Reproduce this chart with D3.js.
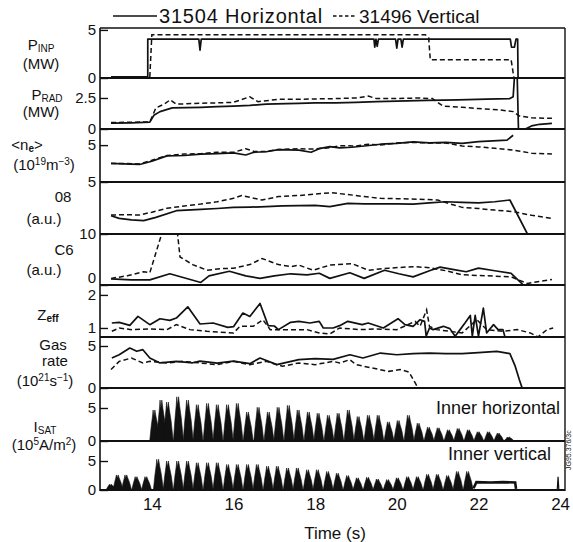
<!DOCTYPE html>
<html>
<head>
<meta charset="utf-8">
<script src="https://cdn.jsdelivr.net/npm/d3@7"></script>
<style>
  body { margin: 0; background: #fff; }
  text { font-family: "Liberation Sans", Arial, sans-serif; fill: #111; }
</style>
</head>
<body>
<svg id="chart" width="573" height="542"></svg>
<script>
// series names
var shotNames = ['31504 Horizontal', '31496 Vertical'];

// x axis
var timeTicks = [14, 16, 18, 20, 22, 24];

// y tick labels per panel
var pinpTicks = [0, 5];
var pradTicks = [0, 2.5];
var neTicks = [5];
var o8Ticks = [5];
var c6Ticks = [0, 10];
var zeffTicks = [1, 2];
var gasTicks = [0, 5];
var isatTicks = [0, 5];

// [time (s), value]
var pinpSolid = [[13.0,0.12],[13.9,0.12],[13.9,4.05],[15.15,4.05],[15.18,2.9],[15.21,4.05],[19.44,4.05],[19.46,3.2],[19.49,4.05],[19.52,3.3],[19.55,4.05],[19.97,4.05],[20.0,3.1],[20.03,4.05],[20.1,4.05],[20.13,3.2],[20.16,4.05],[22.78,4.05],[22.81,3.2],[22.88,3.2],[22.92,4.05],[22.96,4.05],[22.97,0],[23.8,0]];
var pinpDashed = [[13.95,0.1],[14.0,4.5],[20.7,4.5],[20.78,4.2],[20.82,1.9],[22.8,1.9],[22.87,0],[23.8,0]];

var pradSolid = [[13.0,0.48],[13.5,0.5],[13.95,0.55],[14.05,1.1],[14.2,1.4],[14.5,1.7],[15.2,1.75],[15.6,1.8],[16.0,1.85],[16.4,1.9],[16.8,2.0],[17.3,2.05],[17.6,2.07],[18.0,2.1],[18.5,2.1],[19.0,2.15],[19.5,2.2],[20.0,2.25],[20.75,2.3],[21.5,2.35],[22.2,2.4],[22.77,2.45],[22.85,2.6],[22.88,4.1],[22.95,4.1],[22.98,0],[23.15,0],[23.3,0.25],[23.5,0.38],[23.8,0.45]];
var pradDashed = [[13.0,0.52],[13.95,0.57],[14.1,1.7],[14.3,2.0],[14.45,2.35],[14.6,2.0],[15.0,2.05],[15.5,2.1],[16.0,2.15],[16.4,2.6],[16.6,2.2],[17.1,2.4],[17.6,2.4],[18.5,2.45],[19.0,2.5],[19.3,2.65],[19.5,2.45],[20.0,2.45],[20.5,2.5],[20.87,2.45],[21.13,1.85],[21.6,1.75],[22.0,1.65],[22.5,1.55],[22.85,1.4],[23.0,1.05],[23.3,0.9],[23.8,0.86]];

var neSolid = [[13.0,3.98],[13.3,3.95],[13.7,3.92],[14.0,4.1],[14.37,4.4],[14.8,4.42],[15.2,4.5],[15.6,4.52],[16.0,4.57],[16.3,4.45],[16.5,4.6],[16.8,4.63],[17.1,4.75],[17.6,4.72],[17.9,4.6],[18.1,4.8],[18.36,4.92],[18.6,4.85],[18.9,4.88],[19.2,4.95],[19.6,5.05],[20.0,5.1],[20.4,5.18],[20.8,5.12],[21.2,5.15],[21.6,5.1],[22.0,5.2],[22.7,5.28],[22.85,5.55]];
var neDashed = [[13.0,3.98],[13.3,3.98],[13.7,3.95],[14.0,4.15],[14.37,4.42],[14.8,4.5],[15.2,4.52],[15.6,4.6],[16.0,4.6],[16.3,4.8],[16.5,4.65],[16.8,4.65],[17.1,4.75],[17.6,4.8],[17.9,4.78],[18.36,4.85],[18.6,4.97],[19.0,4.95],[19.3,5.05],[19.6,5.0],[20.0,5.12],[20.4,5.15],[20.8,5.12],[21.2,5.12],[21.6,4.95],[22.0,4.9],[22.4,4.82],[22.85,4.72],[23.3,4.55],[23.8,4.5]];

var o8Solid = [[13.0,1.76],[13.2,1.5],[13.5,1.35],[13.8,1.28],[14.1,1.6],[14.6,2.24],[15.2,2.37],[15.6,2.45],[16.0,2.56],[16.4,2.58],[16.8,2.63],[17.2,2.7],[17.6,2.72],[18.0,2.75],[18.36,2.63],[18.8,2.95],[19.2,2.9],[19.6,2.9],[20.0,2.9],[20.4,2.88],[20.8,3.0],[21.2,3.1],[21.6,3.05],[22.0,3.0],[22.4,3.1],[22.77,3.27],[23.2,0],[23.8,0]];
var o8Dashed = [[13.0,1.83],[13.4,1.85],[13.7,1.83],[14.0,2.1],[14.37,2.47],[14.8,2.7],[15.2,2.88],[15.6,3.1],[16.0,3.43],[16.2,3.7],[16.7,3.27],[17.1,3.6],[17.6,3.7],[18.0,3.85],[18.4,3.97],[18.8,3.8],[19.2,3.6],[19.6,3.43],[20.0,3.4],[20.5,3.35],[21.0,3.27],[21.3,2.9],[21.6,2.56],[22.0,2.45],[22.4,2.3],[22.85,2.15],[23.3,1.8],[23.8,1.5]];

var c6Solid = [[13.0,1.2],[13.5,1.0],[13.95,1.0],[14.44,2.2],[15.2,0.5],[15.4,1.8],[15.9,2.7],[16.3,1.8],[16.65,1.3],[17.0,1.8],[17.4,2.2],[17.8,2.0],[18.1,2.3],[18.36,1.3],[18.85,2.4],[19.2,1.3],[19.7,2.9],[20.05,2.2],[20.4,1.6],[20.8,2.8],[21.06,3.5],[21.4,3.0],[21.7,2.6],[22.0,3.3],[22.4,2.8],[22.8,2.3],[23.1,0],[23.8,0]];
var c6Dashed = [[13.0,1.3],[13.4,1.8],[13.8,2.6],[13.95,2.4],[14.24,10],[14.4,13],[14.63,10],[14.69,5.5],[15.0,4.0],[15.35,2.9],[15.7,3.2],[16.0,3.3],[16.4,4.0],[16.7,5.2],[17.1,4.0],[17.4,3.6],[17.6,3.9],[17.95,2.9],[18.36,3.9],[18.9,4.2],[19.3,2.9],[19.8,3.3],[20.4,3.6],[20.8,3.4],[21.2,2.8],[21.6,2.0],[22.2,1.8],[22.8,1.6],[23.2,0.3],[23.5,0.7],[23.8,1.1]];

var zeffSolid = [[13.02,1.15],[13.2,1.17],[13.46,1.08],[13.66,1.35],[13.95,1.1],[14.2,1.28],[14.44,1.23],[14.6,1.3],[14.88,1.64],[15.18,1.12],[15.5,1.15],[15.86,1.02],[16.0,1.04],[16.23,1.45],[16.4,1.35],[16.65,1.74],[16.85,1.07],[17.0,1.06],[17.1,0.95],[17.4,1.17],[17.6,1.2],[17.87,1.15],[18.1,1.2],[18.2,1.0],[18.44,1.0],[18.6,1.07],[18.8,1.2],[19.15,1.1],[19.3,1.15],[19.67,1.0],[20.03,1.28],[20.2,1.1],[20.4,1.05],[20.57,1.25],[20.68,1.2],[20.72,0.75],[20.8,1.0],[20.89,0.95],[21.14,1.05],[21.3,0.98],[21.43,0.75],[21.55,0.95],[21.67,1.15],[21.8,1.38],[21.85,0.75],[21.92,1.38],[22.0,0.75],[22.12,1.6],[22.2,0.85],[22.37,1.1],[22.48,0.95],[22.6,0.95],[22.65,0.73]];
var zeffDashed = [[13.02,0.9],[13.2,1.0],[13.5,0.95],[13.95,0.97],[14.37,0.95],[14.6,1.1],[14.93,0.95],[15.35,0.9],[16.0,0.85],[16.16,1.05],[16.48,1.05],[16.72,1.25],[16.9,0.95],[17.3,0.95],[17.8,0.95],[18.1,0.85],[18.36,0.82],[18.6,1.0],[19.1,0.95],[19.5,0.97],[20.0,0.95],[20.45,1.2],[20.57,1.05],[20.73,1.55],[20.8,1.05],[20.97,0.95],[21.6,0.85],[21.96,1.25],[22.2,0.95],[22.6,0.9],[22.95,0.95],[23.27,0.85],[23.46,0.73],[23.68,0.95],[23.83,1.0]];

var gasSolid = [[13.02,3.57],[13.2,3.96],[13.46,4.76],[13.63,4.37],[13.78,4.56],[13.95,3.57],[14.2,2.98],[14.6,3.17],[15.0,3.0],[15.18,3.2],[15.6,2.95],[16.0,3.2],[16.4,2.9],[16.65,3.57],[17.06,2.78],[17.6,3.37],[18.0,3.5],[18.44,3.4],[18.85,3.96],[19.17,3.57],[19.6,4.16],[20.0,3.96],[20.4,4.1],[20.8,4.16],[21.2,4.1],[21.6,4.1],[22.0,4.2],[22.45,4.36],[22.77,4.1],[22.9,2.6],[23.0,1.0],[23.07,0],[23.8,0]];
var gasDashed = [[13.0,2.2],[13.2,3.17],[13.5,3.57],[13.78,2.98],[13.95,3.17],[14.37,2.98],[14.76,3.17],[15.18,2.98],[15.6,2.78],[16.0,3.17],[16.4,2.78],[16.8,3.17],[17.2,2.58],[17.6,2.98],[18.0,2.78],[18.44,3.17],[18.6,2.98],[18.85,3.37],[19.0,2.78],[19.4,2.38],[19.8,1.98],[20.08,2.2],[20.3,1.9],[20.52,0],[23.8,0]];

// Isat bursts: peak times and peak heights
var isatHTimes = [14.07,14.24,14.40,14.65,14.89,15.13,15.38,15.62,15.87,16.11,16.36,16.62,16.87,17.11,17.36,17.60,17.85,18.09,18.34,18.58,18.83,19.07,19.32,19.56,19.81,20.05,20.30,20.54,20.79,21.03,21.28,21.52,21.77,22.01,22.26,22.50,22.75];
var isatHPeaks = [4.7,6.2,5.9,6.7,6.2,5.5,5.7,5.5,5.5,5.7,4.4,5.1,4.4,5.1,5.4,4.7,4.4,4.2,3.9,4.2,4.7,3.7,3.9,3.9,2.9,3.1,3.9,2.7,2.1,2.0,1.7,1.9,1.7,1.4,1.4,1.2,0.6];
var isatVTimes = [13.0,13.17,13.38,13.63,13.87,14.16,14.40,14.65,14.89,15.13,15.38,15.62,15.87,16.11,16.36,16.60,16.85,17.09,17.34,17.58,17.83,18.07,18.32,18.56,18.81,19.05,19.30,19.54,19.79,20.03,20.28,20.52,20.77,21.01,21.26,21.50,21.75];
var isatVPeaks = [1.0,2.6,2.6,2.3,2.3,5.3,5.0,5.0,5.0,4.7,4.7,4.7,4.4,4.4,4.4,4.4,4.1,4.1,3.8,3.8,3.5,3.5,3.2,2.9,2.5,2.1,2.2,1.9,1.8,2.1,2.3,2.3,2.7,2.7,2.5,3.2,3.2];
var isatVTail = [[21.88,0.3],[21.95,1.35],[22.3,1.3],[22.6,1.35],[22.9,1.3],[22.92,0.2]];
var isatVBlip = [[23.93,0],[23.95,2.3],[23.97,0]];

// ---------- layout ----------
var svg = d3.select('#chart');
var x = d3.scaleLinear().domain([12.73, 24.12]).range([100, 565]);

var panels = [
  {top: 28,  bottom: 78,  domain: [0, 5.2],     ticks: pinpTicks, solid: pinpSolid, dashed: pinpDashed},
  {top: 78,  bottom: 129, domain: [0, 4.11],    ticks: pradTicks, solid: pradSolid, dashed: pradDashed},
  {top: 129, bottom: 182, domain: [2.94, 5.9],  ticks: neTicks,   solid: neSolid,   dashed: neDashed},
  {top: 182, bottom: 234, domain: [0, 5],       ticks: o8Ticks,   solid: o8Solid,   dashed: o8Dashed},
  {top: 234, bottom: 285, domain: [0, 10],      ticks: c6Ticks,   solid: c6Solid,   dashed: c6Dashed, zeroLift: 7},
  {top: 285, bottom: 337, domain: [0.727, 2.3], ticks: zeffTicks, solid: zeffSolid, dashed: zeffDashed},
  {top: 337, bottom: 388, domain: [0, 6.07],    ticks: gasTicks,  solid: gasSolid,  dashed: gasDashed},
  {top: 388, bottom: 441, domain: [0, 8.03],    ticks: isatTicks, spikesT: isatHTimes, spikesV: isatHPeaks},
  {top: 441, bottom: 490, domain: [0, 8.45],    ticks: isatTicks, spikesT: isatVTimes, spikesV: isatVPeaks, tail: isatVTail, blip: isatVBlip}
];

var defs = svg.append('defs');

panels.forEach(function(p, i) {
  var y = d3.scaleLinear().domain(p.domain).range([p.bottom, p.top]);
  defs.append('clipPath').attr('id', 'clip' + i)
    .append('rect').attr('x', 100).attr('y', p.top).attr('width', 465).attr('height', p.bottom - p.top);

  var g = svg.append('g').attr('clip-path', 'url(#clip' + i + ')');
  var line = d3.line().x(function(d) { return x(d[0]); }).y(function(d) { return y(d[1]); });

  if (p.dashed) {
    g.append('path').datum(p.dashed).attr('d', line)
      .attr('fill', 'none').attr('stroke', '#111').attr('stroke-width', 1.5)
      .attr('stroke-dasharray', '5,3');
  }
  if (p.solid) {
    g.append('path').datum(p.solid).attr('d', line)
      .attr('fill', 'none').attr('stroke', '#111').attr('stroke-width', 1.7)
      .attr('stroke-linejoin', 'round');
  }
  if (p.spikesT) {
    var bursts = p.spikesT.map(function(t, k) { return [t, p.spikesV[k]]; });
    g.selectAll('path.burst').data(bursts).enter().append('path')
      .attr('class', 'burst')
      .attr('d', function(d) {
        var cx = x(d[0]), y0 = y(0), yp = y(d[1]);
        var ym = y(d[1] * 0.5), yq = y(d[1] * 0.8);
        return 'M' + (cx - 5) + ',' + y0 + 'L' + (cx - 3.4) + ',' + ym + 'L' + (cx - 2.2) + ',' + yq +
               'L' + (cx - 1.6) + ',' + yp + 'L' + (cx - 0.8) + ',' + yq + 'L' + (cx + 0.2) + ',' + yp +
               'L' + (cx + 1.2) + ',' + yq + 'L' + (cx + 3) + ',' + ym + 'L' + (cx + 5) + ',' + y0 + 'Z';
      })
      .attr('fill', '#111').attr('stroke', '#111').attr('stroke-width', 0.6).attr('stroke-linejoin', 'round');
  }
  if (p.tail) {
    g.append('path').datum(p.tail).attr('d', line)
      .attr('fill', 'none').attr('stroke', '#111').attr('stroke-width', 2.6);
  }
  if (p.blip) {
    g.append('path').datum(p.blip).attr('d', line)
      .attr('fill', 'none').attr('stroke', '#111').attr('stroke-width', 1.2);
  }

  // y axis with inward ticks
  var ax = svg.append('g').attr('transform', 'translate(100,0)')
    .call(d3.axisLeft(y).tickValues(p.ticks).tickSizeInner(-8).tickSizeOuter(0).tickPadding(4)
      .tickFormat(function(d) { return d; }));
  ax.select('.domain').remove();
  ax.selectAll('.tick line').attr('stroke', '#111').attr('stroke-width', 1.4);
  ax.selectAll('.tick text').style('font-size', '15px').style('font-family', '"Liberation Sans", Arial, sans-serif').attr('fill', '#111');
  if (p.zeroLift) {
    ax.selectAll('.tick text').filter(function(d) { return d === 0; }).attr('y', -p.zeroLift);
  }

  // panel base line
  svg.append('line').attr('x1', 100).attr('x2', 565).attr('y1', p.bottom).attr('y2', p.bottom)
    .attr('stroke', '#111').attr('stroke-width', 2);
});

// frame
svg.append('line').attr('x1', 100).attr('x2', 565).attr('y1', 28).attr('y2', 28).attr('stroke', '#111').attr('stroke-width', 1.5);
svg.append('line').attr('x1', 100).attr('x2', 100).attr('y1', 28).attr('y2', 491).attr('stroke', '#111').attr('stroke-width', 1.6);
svg.append('line').attr('x1', 565).attr('x2', 565).attr('y1', 28).attr('y2', 491).attr('stroke', '#111').attr('stroke-width', 1.4);

// x axis
var xa = svg.append('g').attr('transform', 'translate(0,490)')
  .call(d3.axisBottom(x).tickValues(timeTicks).tickSize(0).tickPadding(8).tickFormat(function(d) { return d; }));
xa.select('.domain').remove();
xa.selectAll('.tick text').style('font-size', '17px').style('font-family', '"Liberation Sans", Arial, sans-serif').attr('fill', '#111');

svg.append('text').attr('x', 335).attr('y', 539).attr('text-anchor', 'middle')
  .style('font-size', '17px').text('Time (s)');

// legend
svg.append('line').attr('x1', 113).attr('x2', 157).attr('y1', 16).attr('y2', 16).attr('stroke', '#111').attr('stroke-width', 1.6);
svg.append('text').attr('x', 159).attr('y', 23).style('font-size', '20px').style('letter-spacing', '0.8px').text(shotNames[0]);
svg.append('line').attr('x1', 333).attr('x2', 356).attr('y1', 16).attr('y2', 16).attr('stroke', '#111').attr('stroke-width', 1.5).attr('stroke-dasharray', '3.5,2.5');
svg.append('text').attr('x', 359).attr('y', 23).style('font-size', '19px').text(shotNames[1]);

// panel labels
function label(xp, yp, parts, size) {
  var t = svg.append('text').attr('x', xp).attr('y', yp).attr('text-anchor', 'middle').style('font-size', (size || 15) + 'px');
  parts.forEach(function(pt) {
    var s = t.append('tspan').text(pt.t);
    if (pt.sub) s.style('font-size', '10px').attr('baseline-shift', '-2');
    if (pt.sup) s.style('font-size', '10px').attr('baseline-shift', '5');
    if (pt.b) s.style('font-weight', 'bold');
  });
}
label(41, 50, [{t: 'P'}, {t: 'INP', sub: 1}]);
label(41, 69, [{t: '(MW)'}]);
label(47, 100, [{t: 'P'}, {t: 'RAD', sub: 1}]);
label(41, 117, [{t: '(MW)'}]);
label(27, 150, [{t: '<n'}, {t: 'e', sub: 1, b: 1}, {t: '>'}]);
label(44, 170, [{t: '(10'}, {t: '19', sup: 1}, {t: 'm'}, {t: '\u22123', sup: 1}, {t: ')'}]);
label(63, 202, [{t: '08'}]);
label(44, 224, [{t: '(a.u.)'}]);
label(64, 255, [{t: 'C6'}]);
label(44, 275, [{t: '(a.u.)'}]);
label(48, 320, [{t: 'Z'}, {t: 'eff', sub: 1, b: 1}]);
label(53, 350, [{t: 'Gas'}]);
label(55, 366, [{t: 'rate'}]);
label(45, 386, [{t: '(10'}, {t: '21', sup: 1}, {t: 's'}, {t: '\u22121', sup: 1}, {t: ')'}]);
label(45, 432, [{t: 'I'}, {t: 'SAT', sub: 1}]);
label(44, 450, [{t: '(10'}, {t: '5', sup: 1}, {t: 'A/m'}, {t: '2', sup: 1}, {t: ')'}]);

// panel captions
svg.append('text').attr('x', 560).attr('y', 414).attr('text-anchor', 'end').style('font-size', '18px').text('Inner horizontal');
svg.append('text').attr('x', 551).attr('y', 460).attr('text-anchor', 'end').style('font-size', '18px').text('Inner vertical');

// figure id on right edge
svg.append('text').attr('transform', 'translate(571,470) rotate(-90)').style('font-size', '7px').attr('fill', '#555').text('JG95.376/3c');
</script>
</body>
</html>
